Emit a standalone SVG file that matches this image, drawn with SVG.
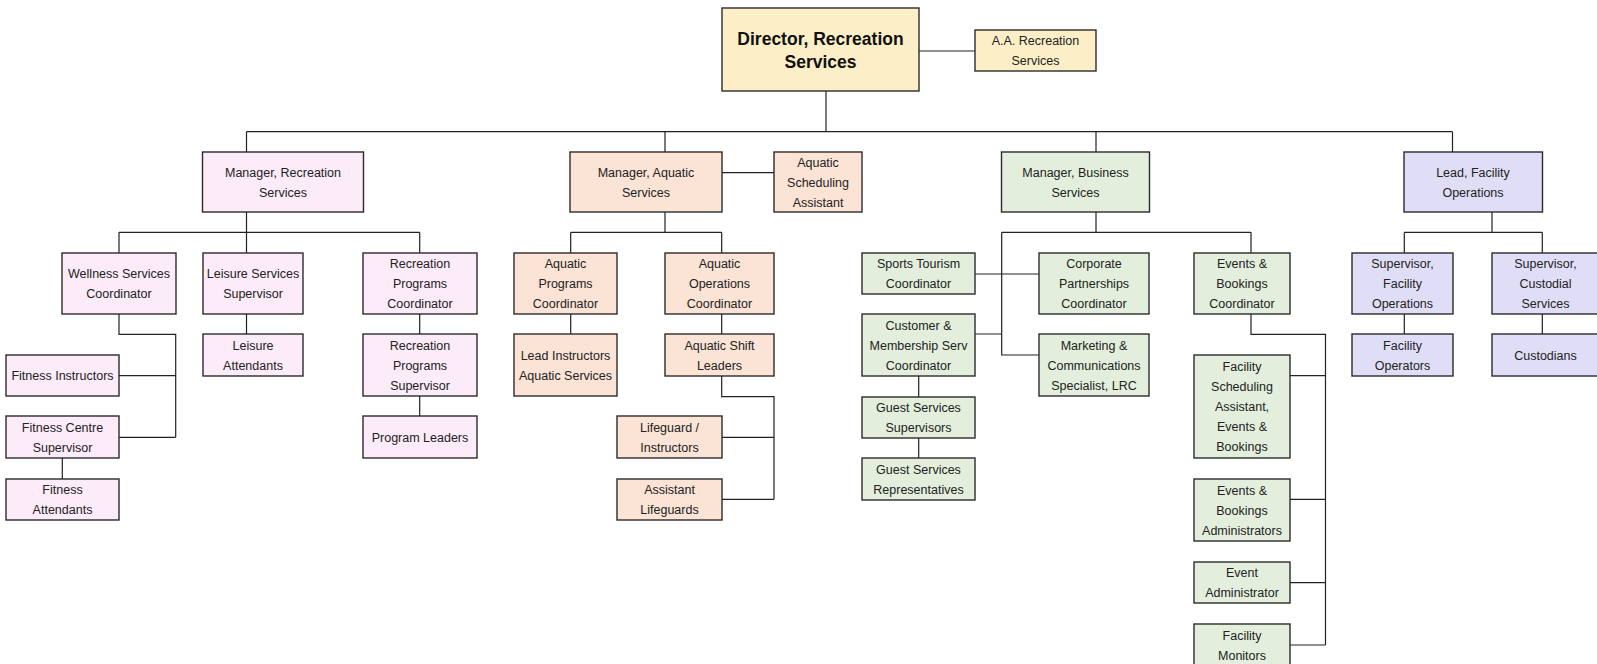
<svg xmlns="http://www.w3.org/2000/svg" width="1597" height="664" viewBox="0 0 1597 664">
<style>
rect{stroke:#2b2b2b;stroke-width:1.4}
.y{fill:#fcefc8}.p{fill:#fcebf9}.o{fill:#fbe3d5}.g{fill:#e3efdc}.v{fill:#e0def7}
text{font-family:"Liberation Sans",Arial,sans-serif;font-size:12.5px;fill:#222;text-anchor:middle}
.b{font-weight:bold;font-size:17.5px;fill:#111}
#connectors path{fill:none;stroke:#222;stroke-width:1.2}
</style>
<rect width="1597" height="664" fill="#fff" style="stroke:none"/>
<g id="connectors">
<path d="M919,51H975"/>
<path d="M826,91V131.7"/>
<path d="M246.5,131.7H1452.5M246.5,131.7V152M665,131.7V152M1096,131.7V152M1452.5,131.7V152"/>
<path d="M722,172.7H774"/>
<path d="M246.5,212V253M119,232.3H419.7M119,232.3V253M419.7,232.3V253"/>
<path d="M246.5,314V334"/>
<path d="M119,314V334.3H175.7V437.3M119,375.7H175.7M119,437.3H175.7"/>
<path d="M62.3,458V479"/>
<path d="M419.7,314V334M419.7,396V416"/>
<path d="M665,212V232.3M570.7,232.3H721.7M570.7,232.3V253M721.7,232.3V253"/>
<path d="M570.7,314V334M721.7,314V334"/>
<path d="M721.7,376V396.7H774V499.3M722,437.3H774M722,499.3H774"/>
<path d="M1096,212V232.3M1001.7,232.3H1251M1001.7,232.3V355H1039M975,274H1039M975,334H1001.7M1251,232.3V253"/>
<path d="M918.7,376V397M918.7,438V458"/>
<path d="M1251,314V334.3H1325.5V645M1290,375.7H1325.5M1290,499.3H1325.5M1290,582.7H1325.5M1290,645H1325.5"/>
<path d="M1492,212V232.3M1404.3,232.3H1542.3M1404.3,232.3V253M1542.3,232.3V253M1404.3,314V334M1542.3,314V334"/>
</g>
<g id="director"><rect class="y" x="722" y="8" width="197" height="83"/><text class="b" x="820.5" y="45">Director, Recreation</text><text class="b" x="820.5" y="68">Services</text></g>
<g id="aa"><rect class="y" x="975" y="30" width="121" height="41"/><text x="1035.5" y="45">A.A. Recreation</text><text x="1035.5" y="65">Services</text></g>
<g id="mgr-rec"><rect class="p" x="202.5" y="152" width="161" height="60"/><text x="283" y="176.5">Manager, Recreation</text><text x="283" y="196.5">Services</text></g>
<g id="mgr-aq"><rect class="o" x="570" y="152" width="152" height="60"/><text x="646" y="176.5">Manager, Aquatic</text><text x="646" y="196.5">Services</text></g>
<g id="aq-sched"><rect class="o" x="774" y="152" width="88" height="60"/><text x="818" y="166.5">Aquatic</text><text x="818" y="186.5">Scheduling</text><text x="818" y="206.5">Assistant</text></g>
<g id="mgr-bus"><rect class="g" x="1001.5" y="152" width="148" height="60"/><text x="1075.5" y="176.5">Manager, Business</text><text x="1075.5" y="196.5">Services</text></g>
<g id="lead-fac"><rect class="v" x="1404" y="152" width="138.5" height="60"/><text x="1473" y="176.5">Lead, Facility</text><text x="1473" y="196.5">Operations</text></g>
<g id="wellness"><rect class="p" x="62" y="253" width="114" height="61"/><text x="119" y="278">Wellness Services</text><text x="119" y="298">Coordinator</text></g>
<g id="leisure-sup"><rect class="p" x="203" y="253" width="100" height="61"/><text x="253" y="278">Leisure Services</text><text x="253" y="298">Supervisor</text></g>
<g id="rec-coord"><rect class="p" x="363" y="253" width="114" height="61"/><text x="420" y="268">Recreation</text><text x="420" y="288">Programs</text><text x="420" y="308">Coordinator</text></g>
<g id="fit-instr"><rect class="p" x="6" y="355" width="113" height="41"/><text x="62.5" y="380">Fitness Instructors</text></g>
<g id="fit-centre"><rect class="p" x="6" y="416" width="113" height="42"/><text x="62.5" y="431.5">Fitness Centre</text><text x="62.5" y="451.5">Supervisor</text></g>
<g id="fit-att"><rect class="p" x="6" y="479" width="113" height="41"/><text x="62.5" y="494">Fitness</text><text x="62.5" y="514">Attendants</text></g>
<g id="leisure-att"><rect class="p" x="203" y="334" width="100" height="42"/><text x="253" y="349.5">Leisure</text><text x="253" y="369.5">Attendants</text></g>
<g id="rec-sup"><rect class="p" x="363" y="334" width="114" height="62"/><text x="420" y="349.5">Recreation</text><text x="420" y="369.5">Programs</text><text x="420" y="389.5">Supervisor</text></g>
<g id="prog-leaders"><rect class="p" x="363" y="416" width="114" height="42"/><text x="420" y="441.5">Program Leaders</text></g>
<g id="aq-prog"><rect class="o" x="514" y="253" width="103" height="61"/><text x="565.5" y="268">Aquatic</text><text x="565.5" y="288">Programs</text><text x="565.5" y="308">Coordinator</text></g>
<g id="lead-instr"><rect class="o" x="514" y="334" width="103" height="62"/><text x="565.5" y="359.5">Lead Instructors</text><text x="565.5" y="379.5">Aquatic Services</text></g>
<g id="aq-ops"><rect class="o" x="665" y="253" width="109" height="61"/><text x="719.5" y="268">Aquatic</text><text x="719.5" y="288">Operations</text><text x="719.5" y="308">Coordinator</text></g>
<g id="aq-shift"><rect class="o" x="665" y="334" width="109" height="42"/><text x="719.5" y="349.5">Aquatic Shift</text><text x="719.5" y="369.5">Leaders</text></g>
<g id="lifeguard"><rect class="o" x="617" y="416" width="105" height="42"/><text x="669.5" y="431.5">Lifeguard /</text><text x="669.5" y="451.5">Instructors</text></g>
<g id="asst-lifeguard"><rect class="o" x="617" y="479" width="105" height="41"/><text x="669.5" y="494">Assistant</text><text x="669.5" y="514">Lifeguards</text></g>
<g id="sports"><rect class="g" x="862" y="253" width="113" height="41"/><text x="918.5" y="268">Sports Tourism</text><text x="918.5" y="288">Coordinator</text></g>
<g id="corporate"><rect class="g" x="1039" y="253" width="110" height="61"/><text x="1094" y="268">Corporate</text><text x="1094" y="288">Partnerships</text><text x="1094" y="308">Coordinator</text></g>
<g id="customer"><rect class="g" x="862" y="314" width="113" height="62"/><text x="918.5" y="329.5">Customer &amp;</text><text x="918.5" y="349.5">Membership Serv</text><text x="918.5" y="369.5">Coordinator</text></g>
<g id="marketing"><rect class="g" x="1039" y="334" width="110" height="62"/><text x="1094" y="349.5">Marketing &amp;</text><text x="1094" y="369.5">Communications</text><text x="1094" y="389.5">Specialist, LRC</text></g>
<g id="guest-sup"><rect class="g" x="862" y="397" width="113" height="41"/><text x="918.5" y="412">Guest Services</text><text x="918.5" y="432">Supervisors</text></g>
<g id="guest-rep"><rect class="g" x="862" y="458" width="113" height="42"/><text x="918.5" y="473.5">Guest Services</text><text x="918.5" y="493.5">Representatives</text></g>
<g id="events-coord"><rect class="g" x="1194" y="253" width="96" height="61"/><text x="1242" y="268">Events &amp;</text><text x="1242" y="288">Bookings</text><text x="1242" y="308">Coordinator</text></g>
<g id="fac-sched"><rect class="g" x="1194" y="355" width="96" height="103"/><text x="1242" y="371">Facility</text><text x="1242" y="391">Scheduling</text><text x="1242" y="411">Assistant,</text><text x="1242" y="431">Events &amp;</text><text x="1242" y="451">Bookings</text></g>
<g id="events-admins"><rect class="g" x="1194" y="479" width="96" height="62"/><text x="1242" y="494.5">Events &amp;</text><text x="1242" y="514.5">Bookings</text><text x="1242" y="534.5">Administrators</text></g>
<g id="event-admin"><rect class="g" x="1194" y="562" width="96" height="41"/><text x="1242" y="577">Event</text><text x="1242" y="597">Administrator</text></g>
<g id="fac-monitors"><rect class="g" x="1194" y="624" width="96" height="44"/><text x="1242" y="639.5">Facility</text><text x="1242" y="659.5">Monitors</text></g>
<g id="sup-fac"><rect class="v" x="1352" y="253" width="101" height="61"/><text x="1402.5" y="268">Supervisor,</text><text x="1402.5" y="288">Facility</text><text x="1402.5" y="308">Operations</text></g>
<g id="fac-operators"><rect class="v" x="1352" y="334" width="101" height="42"/><text x="1402.5" y="349.5">Facility</text><text x="1402.5" y="369.5">Operators</text></g>
<g id="sup-cust"><rect class="v" x="1492" y="253" width="107" height="61"/><text x="1545.5" y="268">Supervisor,</text><text x="1545.5" y="288">Custodial</text><text x="1545.5" y="308">Services</text></g>
<g id="custodians"><rect class="v" x="1492" y="334" width="107" height="42"/><text x="1545.5" y="359.5">Custodians</text></g>
</svg>
